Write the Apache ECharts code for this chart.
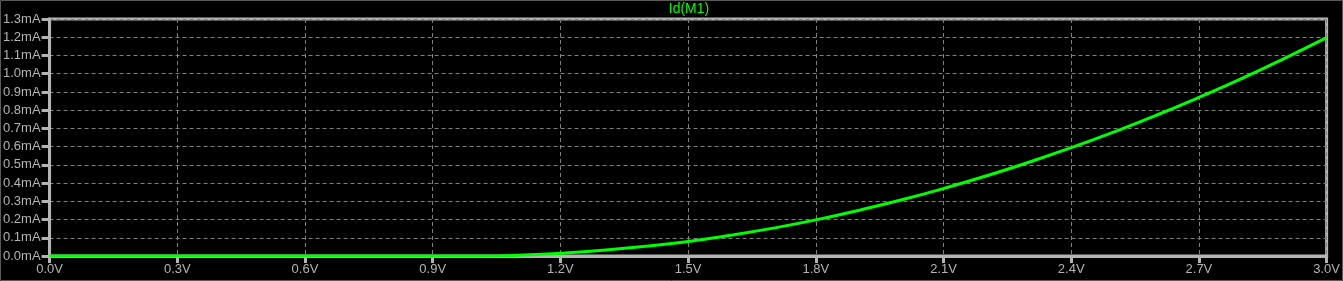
<!DOCTYPE html>
<html>
<head>
<meta charset="utf-8">
<style>
html,body{margin:0;padding:0;background:#000;}
#c{width:1343px;height:281px;}
</style>
<script src="https://cdn.jsdelivr.net/npm/echarts@6/dist/echarts.min.js"></script>
</head>
<body>
<div id="c"></div>
<script>
// Gate voltage sweep (V)
const vgs = [0.0,0.1,0.2,0.3,0.4,0.5,0.6,0.7,0.8,0.9,1.0,1.1,1.2,1.3,1.4,1.5,1.6,1.7,1.8,1.9,2.0,2.1,2.2,2.3,2.4,2.5,2.6,2.7,2.8,2.9,3.0];
// Drain current Id(M1) in mA
const idM1 = [0,0,0,0,0,0,0,0,0,0,0,0.004,0.015,0.031,0.053,0.080,0.114,0.153,0.198,0.250,0.307,0.370,0.439,0.514,0.594,0.680,0.772,0.870,0.973,1.083,1.198];
const seriesName = 'Id(M1)';

const chart = echarts.init(document.getElementById('c'), null, {renderer: 'canvas'});
const gray = '#b4b4b4';
const labelFont = {color: '#b4b4b4', fontFamily: 'Liberation Sans', fontSize: 13};
chart.setOption({
  backgroundColor: '#000000',
  animation: false,
  graphic: [{
    type: 'rect', shape: {x: 0.5, y: 0.5, width: 1342, height: 280},
    style: {fill: 'none', stroke: '#5a5a5a', lineWidth: 1}, silent: true
  }, {
    type: 'text', x: 689, y: 2, silent: true,
    style: {text: seriesName, fill: '#00ff00', font: '14px "Liberation Sans"', textAlign: 'center', textVerticalAlign: 'top'}
  }],
  grid: {left: 49, right: 14, top: 19, bottom: 25, show: true, borderColor: gray, borderWidth: 3, backgroundColor: '#000'},
  xAxis: {
    type: 'value', min: 0, max: 3.0, interval: 0.3,
    axisLine: {show: true, lineStyle: {color: gray, width: 3}},
    axisTick: {show: true, length: 7, lineStyle: {color: gray, width: 3}},
    axisLabel: Object.assign({margin: 7, formatter: v => v.toFixed(1) + 'V', showMinLabel: true, showMaxLabel: true}, labelFont),
    splitLine: {show: true, lineStyle: {color: '#808080', type: [4, 3], width: 1}}
  },
  yAxis: {
    type: 'value', min: 0, max: 1.3, interval: 0.1,
    axisLine: {show: true, lineStyle: {color: gray, width: 3}},
    axisTick: {show: true, length: 8, lineStyle: {color: gray, width: 3}},
    axisLabel: Object.assign({margin: 9, formatter: v => v.toFixed(1) + 'mA'}, labelFont),
    splitLine: {show: true, lineStyle: {color: '#808080', type: [4, 3], width: 1}}
  },
  series: [{
    name: seriesName, type: 'line', showSymbol: false, smooth: true,
    data: vgs.map((v, i) => [v, idM1[i]]),
    lineStyle: {color: '#00ff00', width: 3},
    clip: true
  }]
});
</script>
</body>
</html>
